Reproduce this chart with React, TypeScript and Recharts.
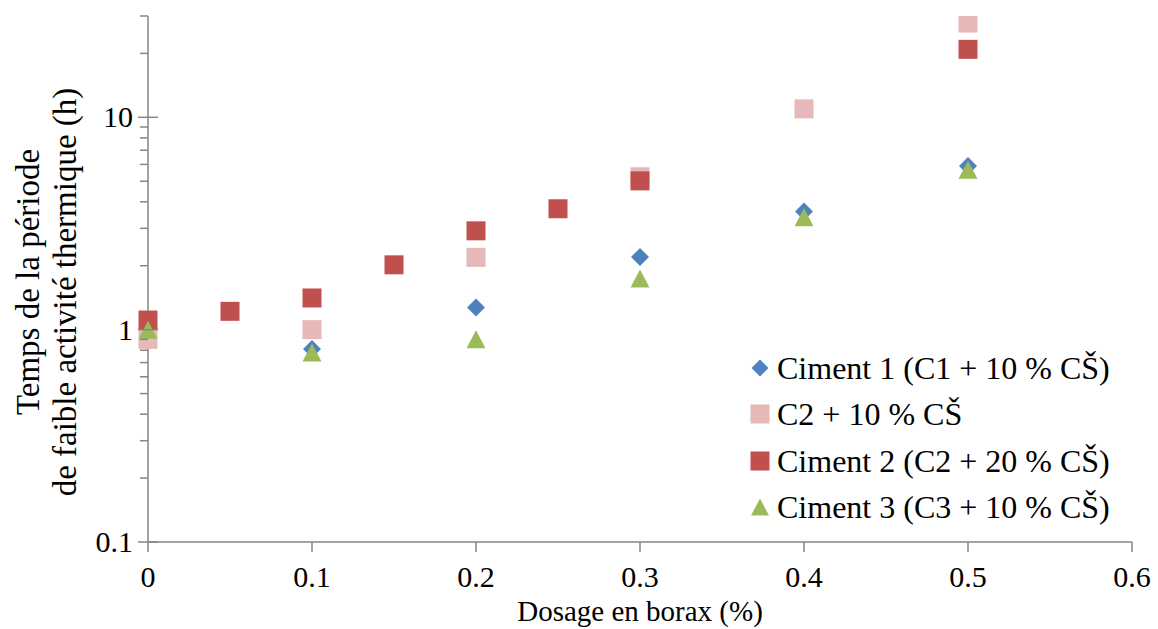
import { ScatterChart, Scatter, XAxis, YAxis, Label } from 'recharts';

// Dosage en borax (%) and durée de la période de faible activité (h)
const dosageC1 = [0, 0.1, 0.2, 0.3, 0.4, 0.5];
const tempsC1 = [1.0, 0.81, 1.27, 2.2, 3.6, 5.9];

const dosageC2a = [0, 0.1, 0.2, 0.3, 0.4, 0.5];
const tempsC2a = [0.9, 1.0, 2.19, 5.25, 10.96, 27.8];

const dosageC2b = [0, 0.05, 0.1, 0.15, 0.2, 0.25, 0.3, 0.5];
const tempsC2b = [1.11, 1.22, 1.41, 2.02, 2.92, 3.71, 5.02, 20.9];

const dosageC3 = [0, 0.1, 0.2, 0.3, 0.4, 0.5];
const tempsC3 = [1.0, 0.78, 0.9, 1.74, 3.38, 5.66];

const xTicks = [0, 0.1, 0.2, 0.3, 0.4, 0.5, 0.6];
const yMajor = [0.1, 1, 10];
const yMinor = [0.2, 0.3, 0.4, 0.5, 0.6, 0.7, 0.8, 0.9, 2, 3, 4, 5, 6, 7, 8, 9, 20, 30];

const FONT = '"Liberation Serif", serif';
const AXIS = '#868686';
const BLUE = '#4F81BD';
const PINK = '#E6B9B8';
const RED = '#C0504D';
const GREEN = '#9BBB59';

const zip = (xs: number[], ys: number[]) => xs.map((x, i) => ({ x, y: ys[i] }));

function Diamond({ cx, cy, fill, r = 9 }: any) {
  return <polygon points={`${cx},${cy - r} ${cx + r},${cy} ${cx},${cy + r} ${cx - r},${cy}`} fill={fill} />;
}
function Square({ cx, cy, fill, s = 19 }: any) {
  return <rect x={cx - s / 2} y={cy - s / 2} width={s} height={s} fill={fill} />;
}
function Triangle({ cx, cy, fill, w = 19, h = 18 }: any) {
  return <polygon points={`${cx},${cy - h / 2} ${cx + w / 2},${cy + h / 2} ${cx - w / 2},${cy + h / 2}`} fill={fill} />;
}

function YTick({ x, y, payload }: any) {
  const major = yMajor.includes(payload.value);
  if (!major) {
    return <line x1={x - 8} x2={x} y1={y} y2={y} stroke={AXIS} strokeWidth={1.5} />;
  }
  return (
    <g>
      <line x1={x - 10} x2={x + 10} y1={y} y2={y} stroke={AXIS} strokeWidth={1.5} />
      <text x={x - 15} y={y + 10} textAnchor="end" fontFamily={FONT} fontSize={30} fill="#000">
        {payload.value}
      </text>
    </g>
  );
}

function XTick({ x, y, payload }: any) {
  return (
    <g>
      <line x1={x} x2={x} y1={y} y2={y + 10} stroke={AXIS} strokeWidth={1.5} />
      <text x={x} y={y + 45} textAnchor="middle" fontFamily={FONT} fontSize={30} fill="#000">
        {payload.value}
      </text>
    </g>
  );
}

function YTitle() {
  return (
    <g fontFamily={FONT} fontSize={33} fill="#000" textAnchor="middle">
      <text transform="translate(39,282) rotate(-90)">Temps de la période</text>
      <text transform="translate(76,292) rotate(-90)">de faible activité thermique (h)</text>
    </g>
  );
}

const legendItems = [
  { label: 'Ciment 1 (C1 + 10 % CŠ)', color: BLUE, kind: 'diamond' },
  { label: 'C2 + 10 % CŠ', color: PINK, kind: 'square' },
  { label: 'Ciment 2 (C2 + 20 % CŠ)', color: RED, kind: 'square' },
  { label: 'Ciment 3 (C3 + 10 % CŠ)', color: GREEN, kind: 'triangle' },
];

export default function App() {
  return (
    <div style={{ position: 'absolute', left: 0, top: 0, width: 1158, height: 629, background: '#fff' }}>
      <ScatterChart width={1158} height={629} margin={{ top: 16, right: 26, left: 0, bottom: 27 }}>
        <XAxis
          type="number"
          dataKey="x"
          domain={[0, 0.6]}
          ticks={xTicks}
          interval={0}
          height={60}
          tickSize={0}
          tickMargin={0}
          tickLine={false}
          axisLine={{ stroke: AXIS, strokeWidth: 1.5 }}
          tick={<XTick />}
        >
          <Label
            value="Dosage en borax (%)"
            position="insideBottom"
            content={() => (
              <text x={640} y={621} textAnchor="middle" fontFamily={FONT} fontSize={29} fill="#000">
                Dosage en borax (%)
              </text>
            )}
          />
        </XAxis>
        <YAxis
          type="number"
          dataKey="y"
          scale="log"
          domain={[0.1, 30]}
          allowDataOverflow
          ticks={[...yMajor, ...yMinor]}
          interval={0}
          width={148}
          tickSize={0}
          tickMargin={0}
          tickLine={false}
          axisLine={{ stroke: AXIS, strokeWidth: 1.5 }}
          tick={<YTick />}
        >
          <Label position="insideLeft" content={() => <YTitle />} />
        </YAxis>
        <Scatter data={zip(dosageC1, tempsC1)} fill={BLUE} shape={(p: any) => <Diamond {...p} fill={BLUE} />} isAnimationActive={false} />
        <Scatter data={zip(dosageC2a, tempsC2a)} fill={PINK} shape={(p: any) => <Square {...p} fill={PINK} />} isAnimationActive={false} />
        <Scatter data={zip(dosageC2b, tempsC2b)} fill={RED} shape={(p: any) => <Square {...p} fill={RED} />} isAnimationActive={false} />
        <Scatter data={zip(dosageC3, tempsC3)} fill={GREEN} shape={(p: any) => <Triangle {...p} fill={GREEN} />} isAnimationActive={false} />
      </ScatterChart>
      <div style={{ position: 'absolute', left: 748, top: 345, fontFamily: FONT, fontSize: 32, lineHeight: '46.3px' }}>
        {legendItems.map((it) => (
          <div key={it.label} style={{ display: 'flex', alignItems: 'center', whiteSpace: 'nowrap' }}>
            <svg width={26} height={20} style={{ marginRight: 3 }}>
              {it.kind === 'diamond' && <Diamond cx={12} cy={10} r={8.5} fill={it.color} />}
              {it.kind === 'square' && <Square cx={12} cy={10} s={19} fill={it.color} />}
              {it.kind === 'triangle' && <Triangle cx={12} cy={10} w={18} h={17} fill={it.color} />}
            </svg>
            <span>{it.label}</span>
          </div>
        ))}
      </div>
    </div>
  );
}
